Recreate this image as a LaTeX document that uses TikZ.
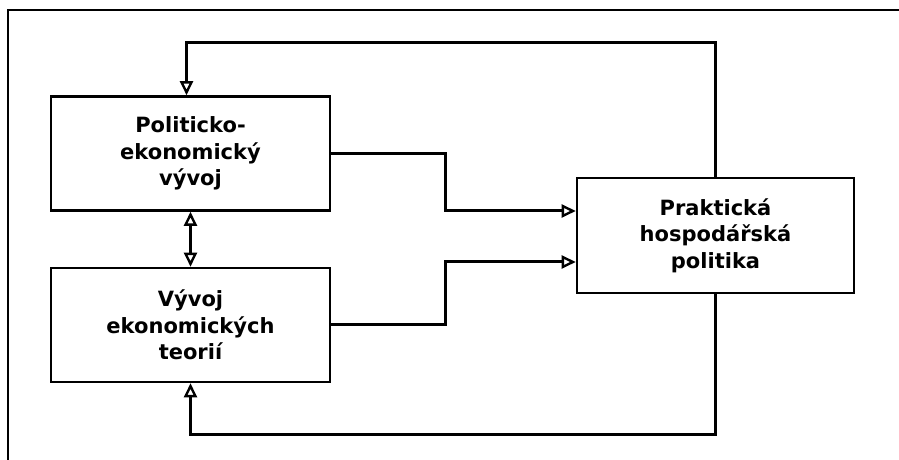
\documentclass[tikz,border=0pt]{standalone}
\usepackage{fontspec}
\setmainfont{DejaVu Sans}
\usetikzlibrary{arrows.meta}

\begin{document}
\begin{tikzpicture}[x=1pt,y=1pt,line join=miter,
  box/.style={draw,line width=2.6pt,minimum width=279pt,minimum height=114pt,
    align=center,font=\fontsize{21}{26.5}\selectfont\bfseries},
  tip/.tip={Triangle[open,length=14pt,width=13pt,line width=2.4pt]},
  flow/.style={line width=3pt,-tip},
]
\useasboundingbox (0,0) rectangle (899,460);

% Frame
\draw [line width=2.2pt] (8,-20) -- (8,450) -- (920,450);

% Node: pol
\node [box] (pol) at (190.5,306.5) {Politicko-\\ekonomický\\vývoj};

% Node: teo
\node [box] (teo) at (190.5,135) {Vývoj\\ekonomických\\teorií};

% Node: prax
\node [box,minimum width=277pt,minimum height=115pt] (prax) at (715.5,224.5) {Praktická\\hospodářská\\politika};

% Edge: prax -> pol
\draw [flow] (prax.north) -- (prax.north |- 0,417) -| ([xshift=-4pt]pol.north);

% Edge: prax -> teo
\draw [flow] (prax.south) -- (prax.south |- 0,25) -| (teo.south);

% Edge: pol <-> teo
\draw [flow,tip-tip] (pol.south) -- (teo.north);

% Edge: pol -> prax
\draw [flow] (pol.east) -- (pol.east -| 445,0) |- ([yshift=24.5pt]prax.west);

% Edge: teo -> prax
\draw [flow] (teo.east) -- (teo.east -| 445,0) |- ([yshift=-26.5pt]prax.west);

\end{tikzpicture}
\end{document}
